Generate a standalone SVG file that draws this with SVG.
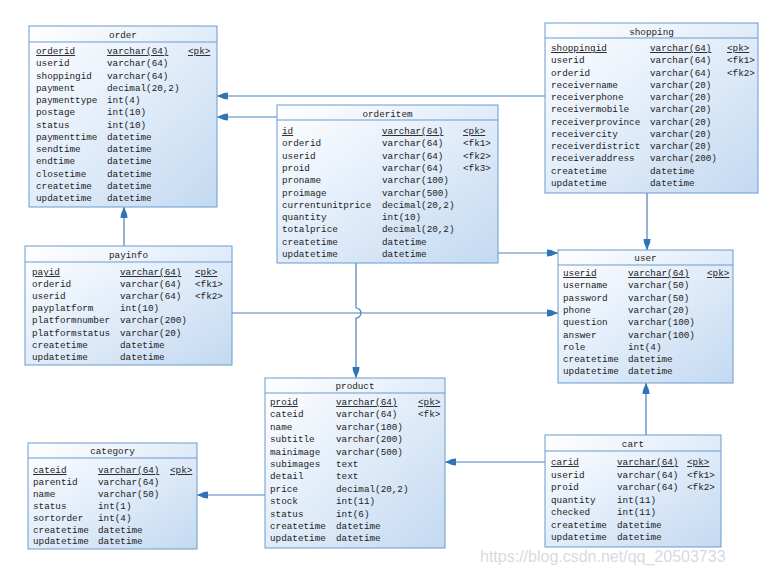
<svg xmlns="http://www.w3.org/2000/svg" width="779" height="567" viewBox="0 0 779 567">
<style>
.box{fill:url(#g);stroke:#6a9bd0;stroke-width:1}
.sep{stroke:#6a9bd0;stroke-width:1}
text{font-family:"Liberation Mono","DejaVu Sans Mono",monospace;font-size:9.3px;fill:#222}
.t{text-anchor:middle}
.u{text-decoration:underline}
.c{fill:none;stroke:#4a82bd;stroke-width:1.2}
.wm{font-family:"Liberation Sans",Arial,sans-serif;font-size:16px;fill:#c9d0d8;opacity:0.75}
</style>
<defs>
<linearGradient id="g" x1="0" y1="0" x2="1" y2="1">
<stop offset="0" stop-color="#ffffff"/>
<stop offset="0.45" stop-color="#e4eefa"/>
<stop offset="1" stop-color="#c3d9f1"/>
</linearGradient>
<marker id="a" markerUnits="userSpaceOnUse" markerWidth="12" markerHeight="10" refX="11" refY="5" orient="auto">
<path d="M0,1.5 L4,2 L11,5 L4,8 L0,8.5 z" fill="#2f74b5"/>
</marker>
</defs>
<rect width="779" height="567" fill="#ffffff"/>

<g id="connectors">
<path class="c" d="M545,96 H217" marker-end="url(#a)"/>
<path class="c" d="M277,117 H217" marker-end="url(#a)"/>
<path class="c" d="M124,246 V207" marker-end="url(#a)"/>
<path class="c" d="M647,193 V250" marker-end="url(#a)"/>
<path class="c" d="M498,253 H558" marker-end="url(#a)"/>
<path class="c" d="M232,313 H558" marker-end="url(#a)"/>
<path class="c" d="M356,263 V308 A5,5 0 0 1 356,318 V378" marker-end="url(#a)"/>
<path class="c" d="M646,435 V383" marker-end="url(#a)"/>
<path class="c" d="M545,462 H445" marker-end="url(#a)"/>
<path class="c" d="M265,495 H197" marker-end="url(#a)"/>
</g>

<g id="order">
<rect class="box" x="29" y="26" width="188" height="181"/>
<line class="sep" x1="29" y1="42" x2="217" y2="42"/>
<text class="t" x="123" y="38">order</text>
<text x="36" y="54" class="u">orderid</text><text x="107" y="54" class="u">varchar(64)</text><text x="188" y="54" class="u">&lt;pk&gt;</text>
<text x="36" y="66.25">userid</text><text x="107" y="66.25">varchar(64)</text>
<text x="36" y="78.5">shoppingid</text><text x="107" y="78.5">varchar(64)</text>
<text x="36" y="90.75">payment</text><text x="107" y="90.75">decimal(20,2)</text>
<text x="36" y="103">paymenttype</text><text x="107" y="103">int(4)</text>
<text x="36" y="115.25">postage</text><text x="107" y="115.25">int(10)</text>
<text x="36" y="127.5">status</text><text x="107" y="127.5">int(10)</text>
<text x="36" y="139.75">paymenttime</text><text x="107" y="139.75">datetime</text>
<text x="36" y="152">sendtime</text><text x="107" y="152">datetime</text>
<text x="36" y="164.25">endtime</text><text x="107" y="164.25">datetime</text>
<text x="36" y="176.5">closetime</text><text x="107" y="176.5">datetime</text>
<text x="36" y="188.75">createtime</text><text x="107" y="188.75">datetime</text>
<text x="36" y="201">updatetime</text><text x="107" y="201">datetime</text>
</g>

<g id="shopping">
<rect class="box" x="545" y="23" width="213" height="170"/>
<line class="sep" x1="545" y1="38" x2="758" y2="38"/>
<text class="t" x="651.5" y="35">shopping</text>
<text x="551" y="51" class="u">shoppingid</text><text x="650" y="51" class="u">varchar(64)</text><text x="727" y="51" class="u">&lt;pk&gt;</text>
<text x="551" y="63.3">userid</text><text x="650" y="63.3">varchar(64)</text><text x="727" y="63.3">&lt;fk1&gt;</text>
<text x="551" y="75.5">orderid</text><text x="650" y="75.5">varchar(64)</text><text x="727" y="75.5">&lt;fk2&gt;</text>
<text x="551" y="87.8">receivername</text><text x="650" y="87.8">varchar(20)</text>
<text x="551" y="100.1">receiverphone</text><text x="650" y="100.1">varchar(20)</text>
<text x="551" y="112.4">receivermobile</text><text x="650" y="112.4">varchar(20)</text>
<text x="551" y="124.6">receiverprovince</text><text x="650" y="124.6">varchar(20)</text>
<text x="551" y="136.9">receivercity</text><text x="650" y="136.9">varchar(20)</text>
<text x="551" y="149.2">receiverdistrict</text><text x="650" y="149.2">varchar(20)</text>
<text x="551" y="161.4">receiveraddress</text><text x="650" y="161.4">varchar(200)</text>
<text x="551" y="173.7">createtime</text><text x="650" y="173.7">datetime</text>
<text x="551" y="186">updatetime</text><text x="650" y="186">datetime</text>
</g>

<g id="orderitem">
<rect class="box" x="277" y="105" width="221" height="158"/>
<line class="sep" x1="277" y1="120" x2="498" y2="120"/>
<text class="t" x="387.5" y="117">orderitem</text>
<text x="282" y="134" class="u">id</text><text x="382" y="134" class="u">varchar(64)</text><text x="463" y="134" class="u">&lt;pk&gt;</text>
<text x="282" y="146.3">orderid</text><text x="382" y="146.3">varchar(64)</text><text x="463" y="146.3">&lt;fk1&gt;</text>
<text x="282" y="158.6">userid</text><text x="382" y="158.6">varchar(64)</text><text x="463" y="158.6">&lt;fk2&gt;</text>
<text x="282" y="170.9">proid</text><text x="382" y="170.9">varchar(64)</text><text x="463" y="170.9">&lt;fk3&gt;</text>
<text x="282" y="183.2">proname</text><text x="382" y="183.2">varchar(100)</text>
<text x="282" y="195.5">proimage</text><text x="382" y="195.5">varchar(500)</text>
<text x="282" y="207.8">currentunitprice</text><text x="382" y="207.8">decimal(20,2)</text>
<text x="282" y="220.1">quantity</text><text x="382" y="220.1">int(10)</text>
<text x="282" y="232.4">totalprice</text><text x="382" y="232.4">decimal(20,2)</text>
<text x="282" y="244.7">createtime</text><text x="382" y="244.7">datetime</text>
<text x="282" y="257">updatetime</text><text x="382" y="257">datetime</text>
</g>

<g id="user">
<rect class="box" x="558" y="250" width="175" height="133"/>
<line class="sep" x1="558" y1="265" x2="733" y2="265"/>
<text class="t" x="645.5" y="261">user</text>
<text x="563" y="276" class="u">userid</text><text x="628" y="276" class="u">varchar(64)</text><text x="707" y="276" class="u">&lt;pk&gt;</text>
<text x="563" y="288.3">username</text><text x="628" y="288.3">varchar(50)</text>
<text x="563" y="300.6">password</text><text x="628" y="300.6">varchar(50)</text>
<text x="563" y="312.9">phone</text><text x="628" y="312.9">varchar(20)</text>
<text x="563" y="325.2">question</text><text x="628" y="325.2">varchar(100)</text>
<text x="563" y="337.5">answer</text><text x="628" y="337.5">varchar(100)</text>
<text x="563" y="349.8">role</text><text x="628" y="349.8">int(4)</text>
<text x="563" y="362.1">createtime</text><text x="628" y="362.1">datetime</text>
<text x="563" y="374.4">updatetime</text><text x="628" y="374.4">datetime</text>
</g>

<g id="payinfo">
<rect class="box" x="25" y="246" width="207" height="119"/>
<line class="sep" x1="25" y1="262" x2="232" y2="262"/>
<text class="t" x="128.5" y="258">payinfo</text>
<text x="32" y="275" class="u">payid</text><text x="120" y="275" class="u">varchar(64)</text><text x="195" y="275" class="u">&lt;pk&gt;</text>
<text x="32" y="287.1">orderid</text><text x="120" y="287.1">varchar(64)</text><text x="195" y="287.1">&lt;fk1&gt;</text>
<text x="32" y="299.2">userid</text><text x="120" y="299.2">varchar(64)</text><text x="195" y="299.2">&lt;fk2&gt;</text>
<text x="32" y="311.3">payplatform</text><text x="120" y="311.3">int(10)</text>
<text x="32" y="323.4">platformnumber</text><text x="120" y="323.4">varchar(200)</text>
<text x="32" y="335.5">platformstatus</text><text x="120" y="335.5">varchar(20)</text>
<text x="32" y="347.6">createtime</text><text x="120" y="347.6">datetime</text>
<text x="32" y="359.7">updatetime</text><text x="120" y="359.7">datetime</text>
</g>

<g id="product">
<rect class="box" x="265" y="378" width="180" height="170"/>
<line class="sep" x1="265" y1="393" x2="445" y2="393"/>
<text class="t" x="355" y="389">product</text>
<text x="270" y="405" class="u">proid</text><text x="336" y="405" class="u">varchar(64)</text><text x="418" y="405" class="u">&lt;pk&gt;</text>
<text x="270" y="417.4">cateid</text><text x="336" y="417.4">varchar(64)</text><text x="418" y="417.4">&lt;fk&gt;</text>
<text x="270" y="429.8">name</text><text x="336" y="429.8">varchar(100)</text>
<text x="270" y="442.2">subtitle</text><text x="336" y="442.2">varchar(200)</text>
<text x="270" y="454.6">mainimage</text><text x="336" y="454.6">varchar(500)</text>
<text x="270" y="467">subimages</text><text x="336" y="467">text</text>
<text x="270" y="479.4">detail</text><text x="336" y="479.4">text</text>
<text x="270" y="491.8">price</text><text x="336" y="491.8">decimal(20,2)</text>
<text x="270" y="504.2">stock</text><text x="336" y="504.2">int(11)</text>
<text x="270" y="516.6">status</text><text x="336" y="516.6">int(6)</text>
<text x="270" y="529">createtime</text><text x="336" y="529">datetime</text>
<text x="270" y="541.4">updatetime</text><text x="336" y="541.4">datetime</text>
</g>

<g id="category">
<rect class="box" x="28" y="443" width="169" height="106"/>
<line class="sep" x1="28" y1="458" x2="197" y2="458"/>
<text class="t" x="112.5" y="454">category</text>
<text x="33" y="473" class="u">cateid</text><text x="98" y="473" class="u">varchar(64)</text><text x="170" y="473" class="u">&lt;pk&gt;</text>
<text x="33" y="484.9">parentid</text><text x="98" y="484.9">varchar(64)</text>
<text x="33" y="496.8">name</text><text x="98" y="496.8">varchar(50)</text>
<text x="33" y="508.7">status</text><text x="98" y="508.7">int(1)</text>
<text x="33" y="520.6">sortorder</text><text x="98" y="520.6">int(4)</text>
<text x="33" y="532.5">createtime</text><text x="98" y="532.5">datetime</text>
<text x="33" y="544.4">updatetime</text><text x="98" y="544.4">datetime</text>
</g>

<g id="cart">
<rect class="box" x="545" y="435" width="176" height="112"/>
<line class="sep" x1="545" y1="451" x2="721" y2="451"/>
<text class="t" x="633" y="447">cart</text>
<text x="551" y="465" class="u">carid</text><text x="617" y="465" class="u">varchar(64)</text><text x="687" y="465" class="u">&lt;pk&gt;</text>
<text x="551" y="477.5">userid</text><text x="617" y="477.5">varchar(64)</text><text x="687" y="477.5">&lt;fk1&gt;</text>
<text x="551" y="490">proid</text><text x="617" y="490">varchar(64)</text><text x="687" y="490">&lt;fk2&gt;</text>
<text x="551" y="502.5">quantity</text><text x="617" y="502.5">int(11)</text>
<text x="551" y="515">checked</text><text x="617" y="515">int(11)</text>
<text x="551" y="527.5">createtime</text><text x="617" y="527.5">datetime</text>
<text x="551" y="540">updatetime</text><text x="617" y="540">datetime</text>
</g>

<text class="wm" x="480" y="562">https://blog.csdn.net/qq_20503733</text>
</svg>
